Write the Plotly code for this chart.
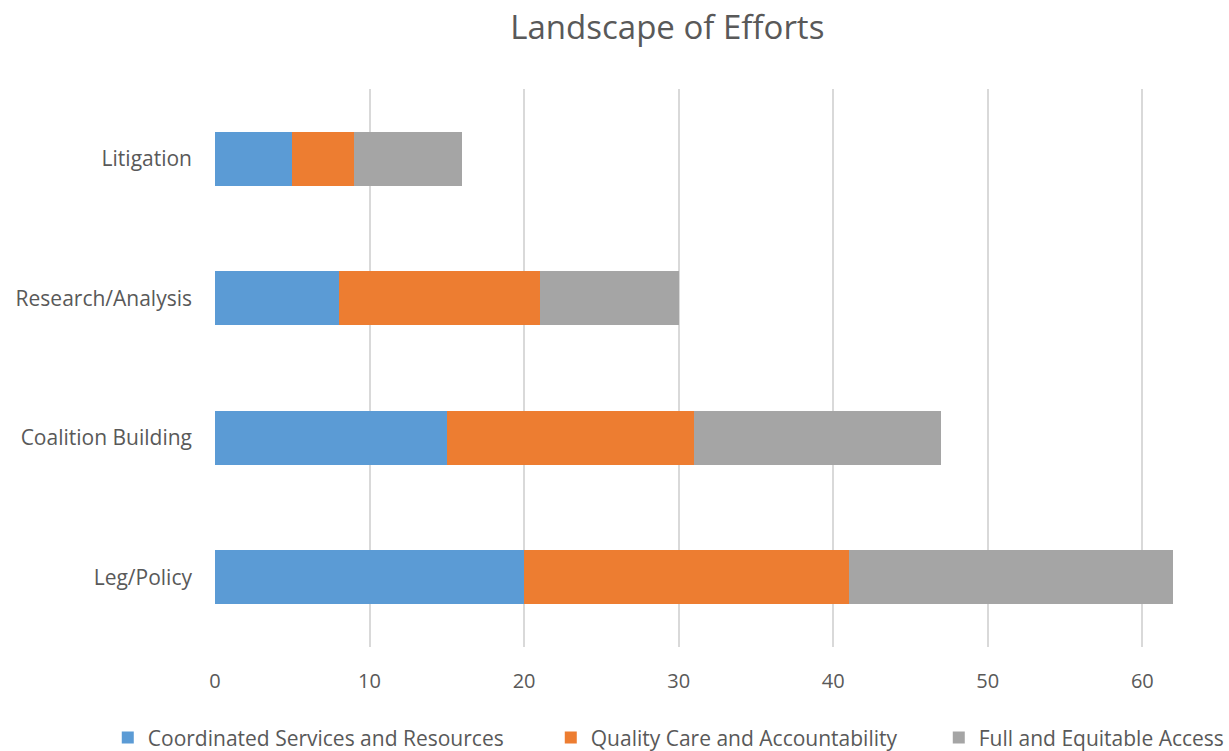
import plotly.graph_objects as go

categories = ["Litigation", "Research/Analysis", "Coalition Building", "Leg/Policy"]
coordinated = [5, 8, 15, 20]
quality = [4, 13, 16, 21]
full_access = [7, 9, 16, 21]
series_names = ["Coordinated Services and Resources", "Quality Care and Accountability", "Full and Equitable Access"]
colors = ["#5B9BD5", "#ED7D31", "#A5A5A5"]
legend_widths = [398, 343, 264]
x_ticks = [0, 10, 20, 30, 40, 50, 60]

fig = go.Figure()
for name, vals, col, lw in zip(series_names, [coordinated, quality, full_access], colors, legend_widths):
    fig.add_trace(go.Bar(y=categories, x=vals, name=name, orientation="h", legendwidth=lw,
                         marker=dict(color=col, line=dict(width=0))))

font_family = "Open Sans"
text_color = "#595959"
fig.update_layout(
    barmode="stack",
    bargap=0.61,
    width=1229, height=751,
    margin=dict(l=215, r=48, t=89, b=104, autoexpand=False),
    paper_bgcolor="white", plot_bgcolor="white",
    font=dict(family=font_family, color=text_color, size=21),
    title=dict(text="Landscape of Efforts", x=0.543, xanchor="center", xref="container",
               y=0.963, yanchor="middle", yref="container",
               font=dict(size=33, color=text_color, family=font_family)),
    xaxis=dict(range=[0, 62.5], tickvals=x_ticks, showgrid=True, gridcolor="#D9D9D9", gridwidth=2,
               zeroline=False, showline=False, ticks="", ticklabelstandoff=20,
               tickfont=dict(size=20, color=text_color)),
    yaxis=dict(categoryorder="array", categoryarray=categories[::-1], autorange=False,
               range=[-0.5, 3.5], showgrid=False, zeroline=False, showline=False,
               ticks="", ticklabelstandoff=22, tickfont=dict(size=21, color=text_color)),
    legend=dict(orientation="h", x=-0.111, xanchor="left", xref="paper",
                y=-0.163, yanchor="middle", yref="paper",
                font=dict(size=21, color=text_color), traceorder="normal",
                itemwidth=30),
    showlegend=True,
)
fig.write_html("out.html")
